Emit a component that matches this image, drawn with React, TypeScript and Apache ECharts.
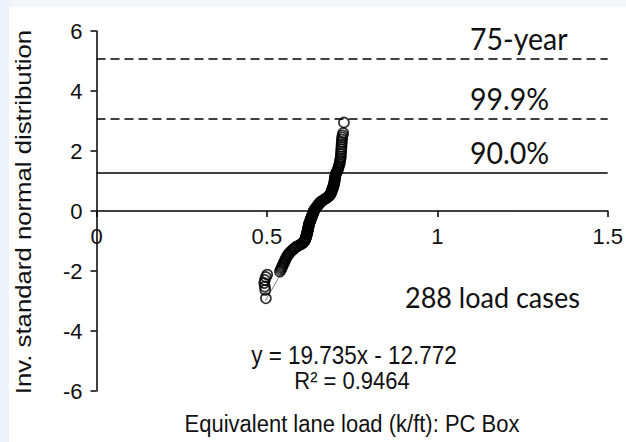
import React, { useEffect, useRef } from "react";
import * as echarts from "echarts";

// Inverse standard normal score (y) and equivalent lane load (x, k/ft)
const loads = [
  0.497, 0.495, 0.494, 0.492, 0.494, 0.497, 0.501,
  0.538, 0.541, 0.543, 0.545, 0.547, 0.549, 0.551, 0.553, 0.555, 0.557, 0.56, 0.562, 0.565, 0.568,
  0.571, 0.575, 0.578, 0.581, 0.585, 0.59, 0.595, 0.6, 0.604, 0.607, 0.609, 0.611, 0.612, 0.613,
  0.614, 0.615, 0.616, 0.616, 0.617, 0.618, 0.618, 0.619, 0.62, 0.62, 0.621, 0.621, 0.622, 0.622,
  0.623, 0.623, 0.624, 0.625, 0.626, 0.627, 0.628, 0.629, 0.63, 0.631, 0.632, 0.633, 0.634, 0.635,
  0.636, 0.637, 0.638, 0.639, 0.641, 0.643, 0.645, 0.647, 0.649, 0.651, 0.653, 0.655, 0.657, 0.661,
  0.665, 0.669, 0.673, 0.677, 0.681, 0.683, 0.685, 0.687, 0.688, 0.689, 0.69, 0.691, 0.692, 0.693,
  0.694, 0.695, 0.696, 0.697, 0.698, 0.698, 0.699, 0.699, 0.7, 0.7, 0.701, 0.702, 0.703, 0.705,
  0.707, 0.709, 0.71, 0.711, 0.713, 0.714, 0.715, 0.716, 0.717, 0.717, 0.718, 0.718, 0.719, 0.719,
  0.72, 0.72, 0.721, 0.722, 0.724, 0.726,
];
const scores = [
  -2.91, -2.63, -2.52, -2.4, -2.3, -2.2, -2.12,
  -2.02, -1.96, -1.9, -1.85, -1.8, -1.75, -1.7, -1.65, -1.6, -1.55, -1.5, -1.46, -1.42, -1.38,
  -1.34, -1.3, -1.27, -1.24, -1.2, -1.17, -1.14, -1.11, -1.08, -1.05, -1.02, -0.99, -0.96, -0.93,
  -0.9, -0.87, -0.84, -0.81, -0.78, -0.75, -0.72, -0.69, -0.66, -0.63, -0.6, -0.57, -0.54, -0.51,
  -0.48, -0.45, -0.42, -0.39, -0.36, -0.33, -0.3, -0.27, -0.24, -0.21, -0.18, -0.15, -0.12, -0.09,
  -0.06, -0.03, 0.0, 0.03, 0.06, 0.09, 0.12, 0.15, 0.18, 0.21, 0.24, 0.27, 0.3, 0.33,
  0.36, 0.39, 0.42, 0.45, 0.48, 0.51, 0.54, 0.57, 0.6, 0.63, 0.66, 0.69, 0.72, 0.75,
  0.78, 0.82, 0.86, 0.9, 0.94, 0.98, 1.02, 1.06, 1.1, 1.14, 1.18, 1.22, 1.26, 1.3,
  1.35, 1.4, 1.45, 1.5, 1.56, 1.62, 1.68, 1.75, 1.82, 1.9, 1.98, 2.06, 2.14, 2.22,
  2.3, 2.38, 2.45, 2.52, 2.6, 2.95,
];

// Linear trendline end points
const trendX = [0.495, 0.726];
const trendY = [-3.0, 1.56];

// Reference levels
const refValues = [5.06, 3.09, 1.28];
const refLabels = ["75-year", "99.9%", "90.0%"];
const refDashed = [true, true, false];

const xTicks = { min: 0, max: 1.5, interval: 0.5 };
const yTicks = { min: -6, max: 6, interval: 2 };

const equation = "y = 19.735x - 12.772";
const rSquared = "R\u00B2 = 0.9464";
const caseLabel = "288 load cases";
const xTitle = "Equivalent lane load (k/ft): PC Box";
const yTitle = "Inv. standard normal distribution";

export default function App() {
  const ref = useRef<HTMLDivElement>(null);
  useEffect(() => {
    if (!ref.current) return;
    const chart = echarts.init(ref.current, null, { renderer: "svg" });
    const sans = "Liberation Sans";
    const cal = "Lato";
    const pts = loads.map((x, i) => [x, scores[i]]);
    const trend = trendX.map((x, i) => [x, trendY[i]]);
    const refTexts = refLabels.map((t, i) => ({
      type: "text",
      x: 470,
      y: [38, 98, 152][i],
      scaleY: 1.05,
      style: { text: t, font: `28.5px ${cal}`, fill: "#111", verticalAlign: "middle" },
    }));
    const gridH = 442 - 31 - 51;
    chart.setOption({
      animation: false,
      backgroundColor: "transparent",
      grid: { left: 96.5, right: 16, top: 31, bottom: 51, containLabel: false },
      xAxis: {
        type: "value",
        min: xTicks.min,
        max: xTicks.max,
        interval: xTicks.interval,
        offset: -gridH / 2,
        axisLine: { show: true, onZero: false, lineStyle: { color: "#000", width: 1.5 } },
        axisTick: { show: true, inside: false, length: 6, lineStyle: { color: "#000", width: 1.5 } },
        axisLabel: { margin: 14, fontSize: 22, fontFamily: sans, color: "#111" },
        splitLine: { show: false },
      },
      yAxis: {
        type: "value",
        min: yTicks.min,
        max: yTicks.max,
        interval: yTicks.interval,
        axisLine: { show: true, onZero: false, lineStyle: { color: "#000", width: 1.5 } },
        axisTick: { show: true, inside: false, length: 6, lineStyle: { color: "#000", width: 1.5 } },
        axisLabel: { margin: 14, fontSize: 22, fontFamily: sans, color: "#111" },
        splitLine: { show: false },
      },
      series: [
        {
          type: "line",
          data: trend,
          symbol: "none",
          lineStyle: { color: "#7f7f7f", width: 1 },
          silent: true,
          z: 1,
          markLine: {
            symbol: "none",
            silent: true,
            label: { show: false },
            data: refValues.map((v, i) => ({
              yAxis: v,
              lineStyle: { color: "#000", width: 1.5, type: refDashed[i] ? [9, 5] : "solid" },
            })),
          },
        },
        {
          type: "scatter",
          data: pts,
          symbol: "circle",
          symbolSize: 10,
          itemStyle: { color: "none", borderColor: "#000", borderWidth: 1.7 },
          z: 3,
        },
      ],
      graphic: [
        { type: "rect", left: 0, top: 0, shape: { width: 626, height: 7 }, style: { fill: "#f3f5f9" }, z: -10 },
        { type: "rect", left: 0, top: 0, shape: { width: 9, height: 442 }, style: { fill: "#eef3fb" }, z: -10 },
        ...refTexts,
        {
          type: "text",
          x: 405,
          y: 297,
          scaleY: 1.05,
          style: { text: caseLabel, font: `27px ${cal}`, fill: "#111", verticalAlign: "middle" },
        },
        {
          type: "text",
          x: 354,
          y: 355,
          scaleY: 1.12,
          style: { text: equation, font: `22.5px ${sans}`, fill: "#111", align: "center", verticalAlign: "middle" },
        },
        {
          type: "text",
          x: 352,
          y: 381,
          scaleY: 1.12,
          style: { text: rSquared, font: `22px ${sans}`, fill: "#111", align: "center", verticalAlign: "middle" },
        },
        {
          type: "text",
          x: 352,
          y: 424,
          scaleY: 1.12,
          style: { text: xTitle, font: `22px ${sans}`, fill: "#111", align: "center", verticalAlign: "middle" },
        },
        {
          type: "text",
          x: 23,
          y: 212,
          rotation: Math.PI / 2,
          scaleX: 1.17,
          style: { text: yTitle, font: `22px ${sans}`, fill: "#111", align: "center", verticalAlign: "middle" },
        },
      ],
    });
    return () => chart.dispose();
  }, []);
  return (
    <div
      ref={ref}
      style={{ position: "fixed", left: 0, top: 0, width: 626, height: 442, background: "#fff" }}
    />
  );
}
